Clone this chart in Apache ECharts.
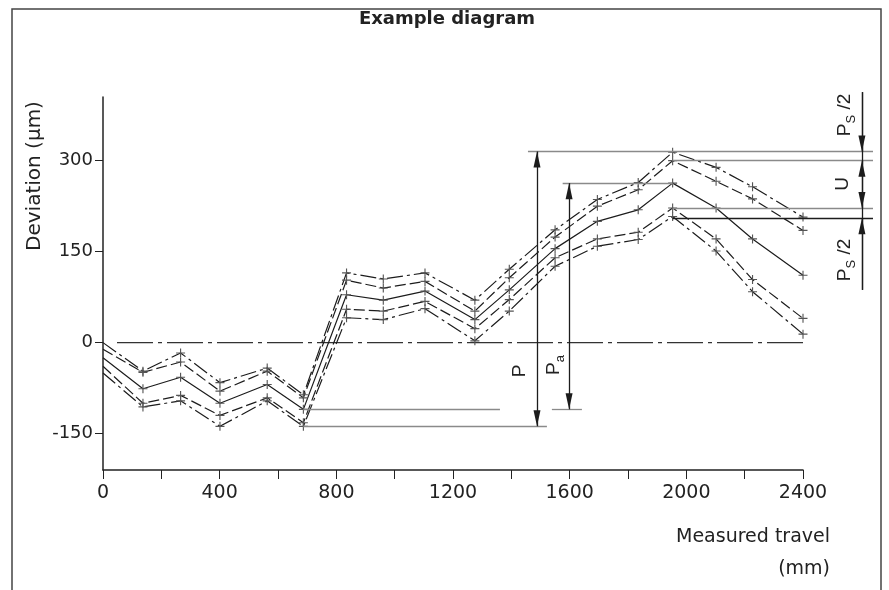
<!DOCTYPE html>
<html>
<head>
<meta charset="utf-8">
<title>Example diagram</title>
<script src="https://cdn.jsdelivr.net/npm/echarts@6/dist/echarts.min.js"></script>
<style>
    html, body { margin: 0; padding: 0; background: #fff; }
    #chart { width: 889px; height: 590px; }
</style>
</head>
<body>
<div id="chart"></div>
<script>
// measured travel (mm) of each measuring point
var travel = [0, 137, 266, 401, 563, 687, 835, 961, 1104, 1275, 1393, 1550, 1695, 1835, 1953, 2102, 2227, 2400];

// deviation (µm) of the five curves, top to bottom
var upperDashDot = [0, -47, -17, -66, -42, -86, 115, 105, 115, 70, 121, 186, 236, 264, 314, 289, 257, 207];
var upperDashed = [-11, -49, -32, -80, -47, -91, 103, 90, 101, 52, 107, 174, 225, 252, 300, 266, 237, 185];
var meanCurve = [-25, -76, -57, -100, -69, -110, 79, 70, 85, 38, 87, 155, 200, 219, 263, 222, 171, 111];
var lowerDashed = [-39, -100, -87, -120, -91, -132, 55, 52, 68, 23, 71, 140, 171, 182, 222, 171, 104, 40];
var lowerDashDot = [-50, -106, -96, -138, -96, -138, 41, 38, 56, 3, 52, 126, 159, 170, 208, 151, 84, 14];

// axis ticks
var xTicks = [0, 400, 800, 1200, 1600, 2000, 2400];
var yTicks = [-150, 0, 150, 300];

// zero reference line
var zeroLine = [[48, 0], [2400, 0]];

// helper lines (mm, µm) used for the P, Pa, U, Ps/2 dimensions
var grayLines = [
    [[1457, 315], [2640, 315]],
    [[1953, 300], [2640, 300]],
    [[1576, 263], [1953, 263]],
    [[1953, 222], [2640, 222]],
    [[687, -110], [1361, -110]],
    [[1539, -110], [1642, -110]],
    [[687, -138], [1522, -138]]
];
var blackLines = [
    [[1953, 205], [2640, 205]],
    [[2602, 413], [2602, 87]]
];
var doubleArrows = [
    [[1488, -138], [1488, 315]],
    [[1598, -110], [1598, 263]],
    [[2602, 300], [2602, 222]]
];
var singleArrows = [
    [[2602, 413], [2602, 315]],
    [[2602, 87], [2602, 205]]
];

(function () {
    var myChart = echarts.init(document.getElementById('chart'));

    var dashDot = [16, 4, 3, 4];
    var dashed = [11, 4];
    var plus = 'path://M7,0h2v7h7v2h-7v7h-2v-7h-7v-2h7z';
    var font = 'DejaVu Sans';

    var curves = [
        { values: upperDashDot, dash: dashDot },
        { values: upperDashed, dash: dashed },
        { values: meanCurve, dash: 'solid' },
        { values: lowerDashed, dash: dashed },
        { values: lowerDashDot, dash: dashDot }
    ];

    function toPoints(values) {
        return values.map(function (v, i) {
            // no cross on the axis itself
            if (i === 0) {
                return { value: [travel[i], v], symbol: 'none' };
            }
            return [travel[i], v];
        });
    }

    function toMarkLine(segments) {
        return segments.map(function (s) {
            return [{ coord: s[0] }, { coord: s[1] }];
        });
    }

    function markSeries(segments, color, symbol) {
        return {
            type: 'line',
            xAxisIndex: 1,
            yAxisIndex: 1,
            data: [],
            silent: true,
            markLine: {
                silent: true,
                animation: false,
                symbol: symbol,
                symbolSize: [7, 16],
                symbolOffset: [[0, '50%'], [0, '50%']],
                label: { show: false },
                lineStyle: { color: color, width: 1.3, type: 'solid' },
                emphasis: { disabled: true },
                data: toMarkLine(segments)
            }
        };
    }

    var series = curves.map(function (c) {
        return {
            type: 'line',
            xAxisIndex: 0,
            yAxisIndex: 0,
            data: toPoints(c.values),
            symbol: plus,
            symbolSize: 9,
            showSymbol: true,
            lineStyle: { color: '#1c1c1c', width: 1.2, type: c.dash },
            itemStyle: { color: '#555' },
            emphasis: { disabled: true },
            z: 3
        };
    });

    series.push({
        type: 'line',
        xAxisIndex: 0,
        yAxisIndex: 0,
        data: zeroLine,
        symbol: 'none',
        lineStyle: { color: '#333', width: 1.3, type: [36, 5, 4, 5] },
        emphasis: { disabled: true },
        z: 2
    });
    series.push(markSeries(grayLines, '#8a8a8a', 'none'));
    series.push(markSeries(blackLines, '#1c1c1c', 'none'));
    series.push(markSeries(doubleArrows, '#1c1c1c', ['triangle', 'triangle']));
    series.push(markSeries(singleArrows, '#1c1c1c', ['none', 'triangle']));

    var main = { fontSize: 19, fontFamily: 'Liberation Sans', lineHeight: 26, verticalAlign: 'middle', fill: '#222' };
    var sub = { fontSize: 13, fontFamily: 'Liberation Sans', lineHeight: 13, verticalAlign: 'bottom', fill: '#222' };

    function rotatedLabel(text, x, y) {
        return {
            type: 'text',
            x: x,
            y: y,
            rotation: Math.PI / 2,
            style: {
                text: text,
                rich: { m: main, s: sub },
                align: 'center',
                verticalAlign: 'middle'
            }
        };
    }

    var option = {
        animation: false,
        grid: [
            { left: 103, right: 86, top: 97, bottom: 120, outerBoundsMode: 'none' },
            { left: 103, right: 16, top: 57.58, bottom: 120, outerBoundsMode: 'none' }
        ],
        xAxis: [
            {
                type: 'value',
                gridIndex: 0,
                min: 0,
                max: 2400,
                interval: 200,
                axisLine: { show: true, onZero: false, lineStyle: { color: '#222', width: 1.5 } },
                axisTick: { show: true, length: 9, lineStyle: { color: '#222' } },
                axisLabel: {
                    customValues: xTicks,
                    formatter: function (v) { return String(v); },
                    color: '#222',
                    fontFamily: font,
                    fontSize: 19,
                    margin: 14
                },
                splitLine: { show: false }
            },
            {
                type: 'value',
                gridIndex: 1,
                min: 0,
                max: 2640,
                show: false
            }
        ],
        yAxis: [
            {
                type: 'value',
                gridIndex: 0,
                min: -210,
                max: 405,
                axisLine: { show: true, onZero: false, lineStyle: { color: '#222', width: 1.5 } },
                axisTick: { show: true, length: 8, customValues: yTicks, lineStyle: { color: '#222' } },
                axisLabel: { customValues: yTicks, color: '#222', fontFamily: font, fontSize: 18, margin: 10 },
                splitLine: { show: false }
            },
            {
                type: 'value',
                gridIndex: 1,
                min: -210,
                max: 470,
                show: false
            }
        ],
        graphic: [
            {
                type: 'rect',
                shape: { x: 12, y: 9, width: 869, height: 620 },
                style: { fill: 'none', stroke: '#444', lineWidth: 1.5 },
                silent: true
            },
            {
                type: 'text',
                x: 447,
                y: 19,
                style: {
                    text: 'Example diagram',
                    font: 'bold 18px "DejaVu Sans"',
                    fill: '#222',
                    align: 'center',
                    verticalAlign: 'middle'
                }
            },
            {
                type: 'text',
                x: 35,
                y: 176,
                rotation: Math.PI / 2,
                style: {
                    text: 'Deviation (µm)',
                    font: '20px "DejaVu Sans"',
                    fill: '#222',
                    align: 'center',
                    verticalAlign: 'middle'
                }
            },
            {
                type: 'text',
                x: 830,
                y: 537,
                style: { text: 'Measured travel', font: '19px "DejaVu Sans"', fill: '#222', align: 'right', verticalAlign: 'middle' }
            },
            {
                type: 'text',
                x: 830,
                y: 569,
                style: { text: '(mm)', font: '19px "DejaVu Sans"', fill: '#222', align: 'right', verticalAlign: 'middle' }
            },
            rotatedLabel('{m|P}', 520, 371),
            rotatedLabel('{m|P}{s|a}', 554, 365),
            rotatedLabel('{m|P}{s|S}{m| /2}', 845, 115),
            rotatedLabel('{m|U}', 843, 184),
            rotatedLabel('{m|P}{s|S}{m| /2}', 845, 260)
        ],
        series: series
    };

    myChart.setOption(option);
})();
</script>
</body>
</html>
